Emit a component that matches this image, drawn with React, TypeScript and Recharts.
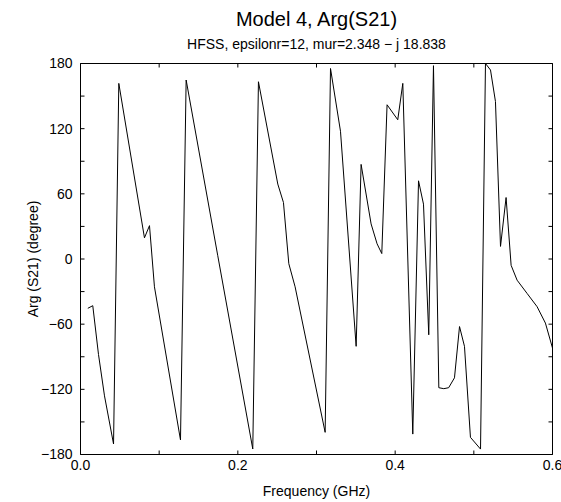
import React from 'react';
import { LineChart, Line, XAxis, YAxis } from 'recharts';

const freqGHz = [
  0.0093, 0.0156, 0.0229, 0.0305, 0.042, 0.0487, 0.0813, 0.0877, 0.094, 0.1271,
  0.1343, 0.1745, 0.219, 0.2262, 0.2508, 0.258, 0.2648, 0.2728, 0.311, 0.3178,
  0.3305, 0.3504, 0.3567, 0.3694, 0.377, 0.383, 0.3897, 0.4033, 0.4097, 0.4224,
  0.4297, 0.436, 0.4427, 0.4487, 0.4555, 0.4618, 0.468, 0.4754, 0.4818, 0.4881,
  0.4957, 0.5085, 0.5148, 0.5212, 0.5275, 0.5339, 0.541, 0.5474, 0.555, 0.5677,
  0.5804, 0.591, 0.6,
];
const argS21 = [
  -45.4, -43, -88, -126, -170.3, 161.7, 19.5, 30.7, -25.6, -166.6,
  164.8, 3, -174.9, 163.2, 69, 52, -4.3, -25.6, -159.6, 175.4,
  117.6, -80.4, 87.1, 32.3, 14, 5, 142, 128.2, 161.7, -161.2,
  72, 50.5, -69.8, 178, -118.5, -119.4, -118.5, -109.4, -62.2, -80.4,
  -164.2, -175, 180, 174, 145, 11.6, 56.6, -5.8, -19.5, -31.7,
  -43.9, -59, -82,
];
const xTicks = [0, 0.1, 0.2, 0.3, 0.4, 0.5, 0.6];
const yTicks = [-180, -150, -120, -90, -60, -30, 0, 30, 60, 90, 120, 150, 180];

const title = 'Model 4, Arg(S21)';
const subtitle = 'HFSS, epsilonr=12, mur=2.348 \u2212 j 18.838';
const xLabel = 'Frequency (GHz)';
const yLabel = 'Arg (S21) (degree)';

const data = freqGHz.map((f, i) => ({ f, v: argS21[i] }));

const fmtX = (v: number) => (Math.round(v * 10) % 2 === 0 ? v.toFixed(1) : '');
const fmtY = (v: number) =>
  v % 60 === 0 ? (v < 0 ? '\u2212' + Math.abs(v) : String(v)) : '';

const FONT = '"Liberation Sans", Arial, Helvetica, sans-serif';
const tickStyle = { fill: '#000', fontSize: 14, fontFamily: FONT };

export default function App() {
  return (
    <div style={{ position: 'absolute', left: 0, top: 0, width: 561, height: 502, background: '#fff', fontFamily: FONT }}>
      <div style={{ position: 'absolute', left: 316.5, top: 19, transform: 'translate(-50%, -50%)', fontSize: 20, whiteSpace: 'nowrap', color: '#000' }}>
        {title}
      </div>
      <div style={{ position: 'absolute', left: 316.5, top: 44, transform: 'translate(-50%, -50%)', fontSize: 14, whiteSpace: 'nowrap', color: '#000' }}>
        {subtitle}
      </div>
      <div style={{ position: 'absolute', left: 316.5, top: 491, transform: 'translate(-50%, -50%)', fontSize: 14, whiteSpace: 'nowrap', color: '#000' }}>
        {xLabel}
      </div>
      <div style={{ position: 'absolute', left: 33, top: 259, transform: 'translate(-50%, -50%) rotate(-90deg)', fontSize: 14, whiteSpace: 'nowrap', color: '#000' }}>
        {yLabel}
      </div>
      <LineChart
        width={561}
        height={502}
        data={data}
        margin={{ top: 58.5, right: 3.5, bottom: 17.5, left: 40.5 }}
        style={{ position: 'absolute', left: 0, top: 0 }}
      >
        <XAxis
          xAxisId="b"
          dataKey="f"
          type="number"
          domain={[0, 0.6]}
          ticks={xTicks}
          tickFormatter={fmtX}
          orientation="bottom"
          height={30}
          tickSize={-4}
          tickMargin={10}
          interval={0}
          allowDataOverflow
          axisLine={{ stroke: '#000' }}
          tickLine={{ stroke: '#000' }}
          tick={tickStyle}
        />
        <XAxis
          xAxisId="t"
          dataKey="f"
          type="number"
          domain={[0, 0.6]}
          ticks={xTicks}
          orientation="top"
          height={5}
          tickSize={-4}
          interval={0}
          allowDataOverflow
          axisLine={{ stroke: '#000' }}
          tickLine={{ stroke: '#000' }}
          tick={{ fontSize: 0 }}
          tickFormatter={() => ''}
        />
        <YAxis
          yAxisId="l"
          type="number"
          domain={[-180, 180]}
          ticks={yTicks}
          tickFormatter={fmtY}
          orientation="left"
          width={40}
          tickSize={-4}
          tickMargin={12}
          interval={0}
          allowDataOverflow
          axisLine={{ stroke: '#000' }}
          tickLine={{ stroke: '#000' }}
          tick={tickStyle}
        />
        <YAxis
          yAxisId="r"
          type="number"
          domain={[-180, 180]}
          ticks={yTicks}
          orientation="right"
          width={5}
          tickSize={-4}
          interval={0}
          allowDataOverflow
          axisLine={{ stroke: '#000' }}
          tickLine={{ stroke: '#000' }}
          tick={{ fontSize: 0 }}
          tickFormatter={() => ''}
        />
        <Line
          xAxisId="b"
          yAxisId="l"
          dataKey="v"
          type="linear"
          stroke="#000"
          strokeWidth={1}
          dot={false}
          isAnimationActive={false}
        />
      </LineChart>
    </div>
  );
}
